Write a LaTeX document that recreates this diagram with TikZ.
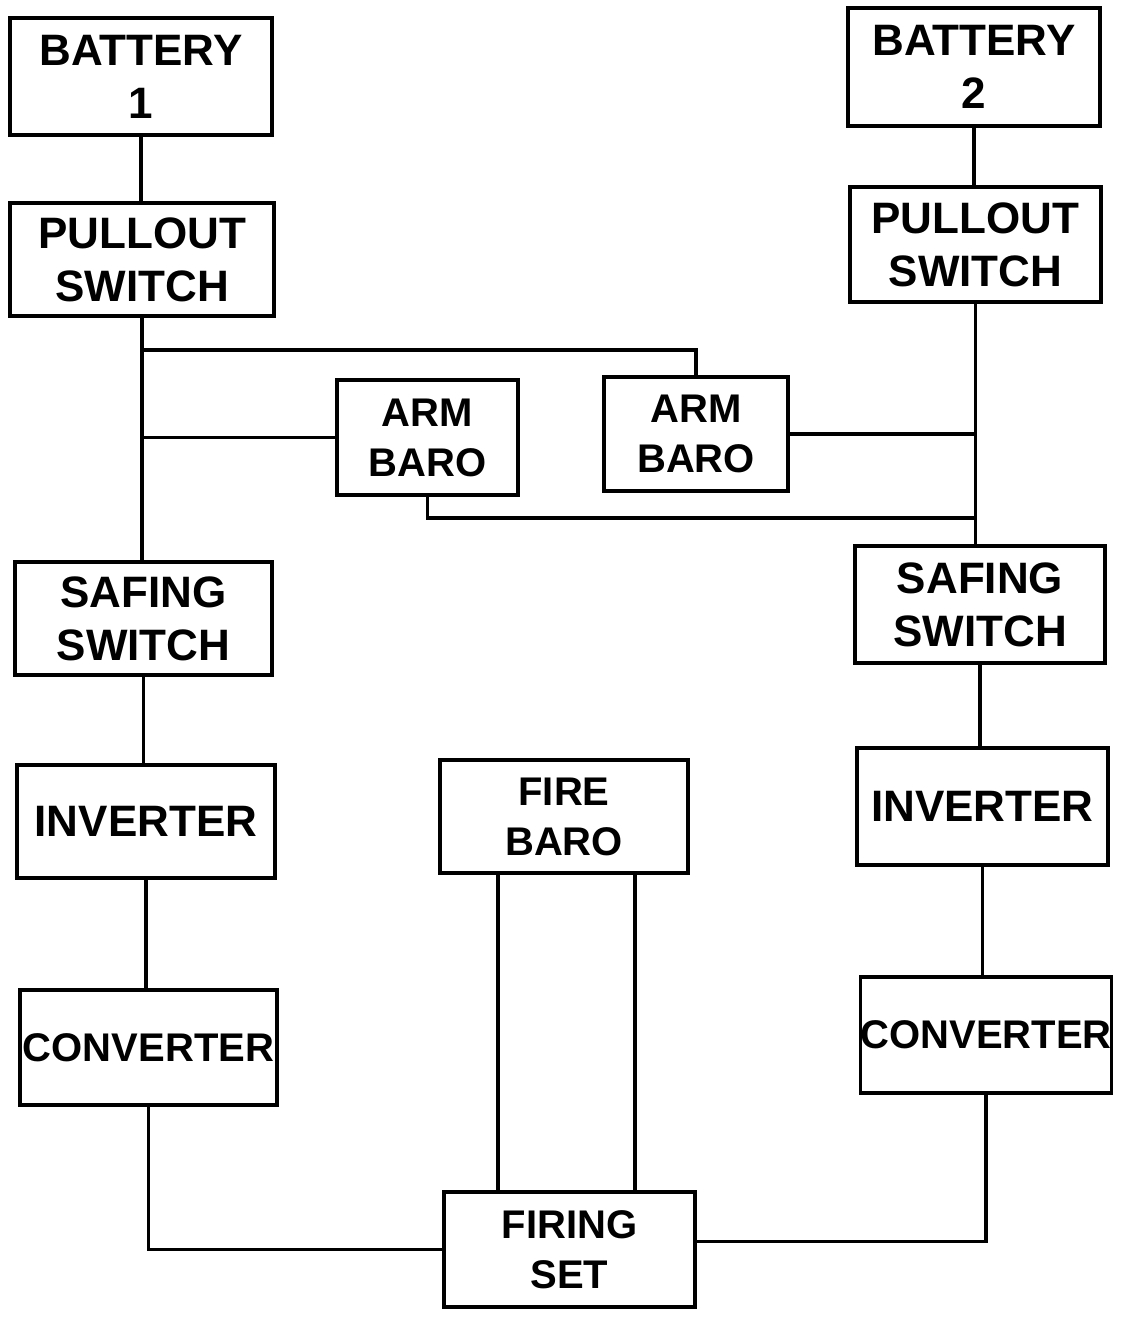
\documentclass[tikz,border=0pt]{standalone}
\usepackage{fontspec}
\setmainfont{Liberation Sans}
\begin{document}
\begin{tikzpicture}[x=1pt,y=-1pt,
  box/.style={draw,line width=3.5pt,inner sep=0pt,align=center,
    font=\fontsize{44}{53}\selectfont\bfseries},
  small/.style={font=\fontsize{40}{50}\selectfont\bfseries},
  conv/.style={font=\fontsize{40}{48}\selectfont\bfseries},
  wire/.style={line width=3.5pt,line cap=rect}]
\useasboundingbox (0,0) rectangle (1121,1319);
\node[box,minimum width=262,minimum height=117] (bat1) at (141,76.5) {BATTERY\\1};
\node[box,minimum width=264,minimum height=113] (pull1) at (142,259.5) {PULLOUT\\SWITCH};
\node[box,minimum width=252,minimum height=118] (bat2) at (974,67) {BATTERY\\2};
\node[box,minimum width=251,minimum height=115] (pull2) at (975.5,244.5) {PULLOUT\\SWITCH};
\node[box,small,minimum width=181,minimum height=115] (arm1) at (427.5,437.5) {ARM\\BARO};
\node[box,small,minimum width=184,minimum height=114] (arm2) at (696,434) {ARM\\BARO};
\node[box,minimum width=257,minimum height=113] (safe1) at (143.5,618.5) {SAFING\\SWITCH};
\node[box,minimum width=250,minimum height=117] (safe2) at (980,604.5) {SAFING\\SWITCH};
\node[box,minimum width=258,minimum height=113] (inv1) at (146,821.5) {INVERTER};
\node[box,small,minimum width=248,minimum height=113] (fire) at (564,816.5) {FIRE\\BARO};
\node[box,minimum width=251,minimum height=117] (inv2) at (982.5,806.5) {INVERTER};
\node[box,conv,minimum width=257,minimum height=115] (conv1) at (148.5,1047.5) {CONVERTER};
\node[box,conv,minimum width=248,minimum height=116] (conv2) at (986,1035) {CONVERTER};
\node[box,small,minimum width=251,minimum height=115] (fset) at (569.5,1249.5) {FIRING\\SET};
% left chain
\draw[wire] (bat1.south) -- (bat1.south |- pull1.north);
\draw[wire] (pull1.south) -- (pull1.south |- safe1.north);
\draw[wire] (safe1.south) -- (safe1.south |- inv1.north);
\draw[wire] (inv1.south) -- (inv1.south |- conv1.north);
\draw[wire] (conv1.south) -- (conv1.south |- fset.west) -- (fset.west);
% right chain
\draw[wire] (bat2.south) -- (bat2.south |- pull2.north);
\draw[wire] (pull2.south) -- (pull2.south |- safe2.north);
\draw[wire] (safe2.south) -- (safe2.south |- inv2.north);
\draw[wire] (inv2.south) -- (inv2.south |- conv2.north);
\coordinate (j4) at ([yshift=8pt]fset.east);
\draw[wire] (conv2.south) -- (conv2.south |- j4) -- (j4);
% arm baro connections
\coordinate (j1) at (142,350);
\draw[wire] (j1) -- (arm2.north |- j1) -- (arm2.north);
\draw[wire] (pull1.south |- arm1.west) -- (arm1.west);
\draw[wire] (arm2.east) -- (pull2.south |- arm2.east);
\coordinate (j3) at (427.5,518);
\draw[wire] (arm1.south) -- (j3) -- (pull2.south |- j3);
% fire baro to firing set
\draw[wire] ([xshift=-66pt]fire.south) -- ([xshift=-66pt]fire.south |- fset.north);
\draw[wire] ([xshift=71pt]fire.south) -- ([xshift=71pt]fire.south |- fset.north);
\end{tikzpicture}
\end{document}
